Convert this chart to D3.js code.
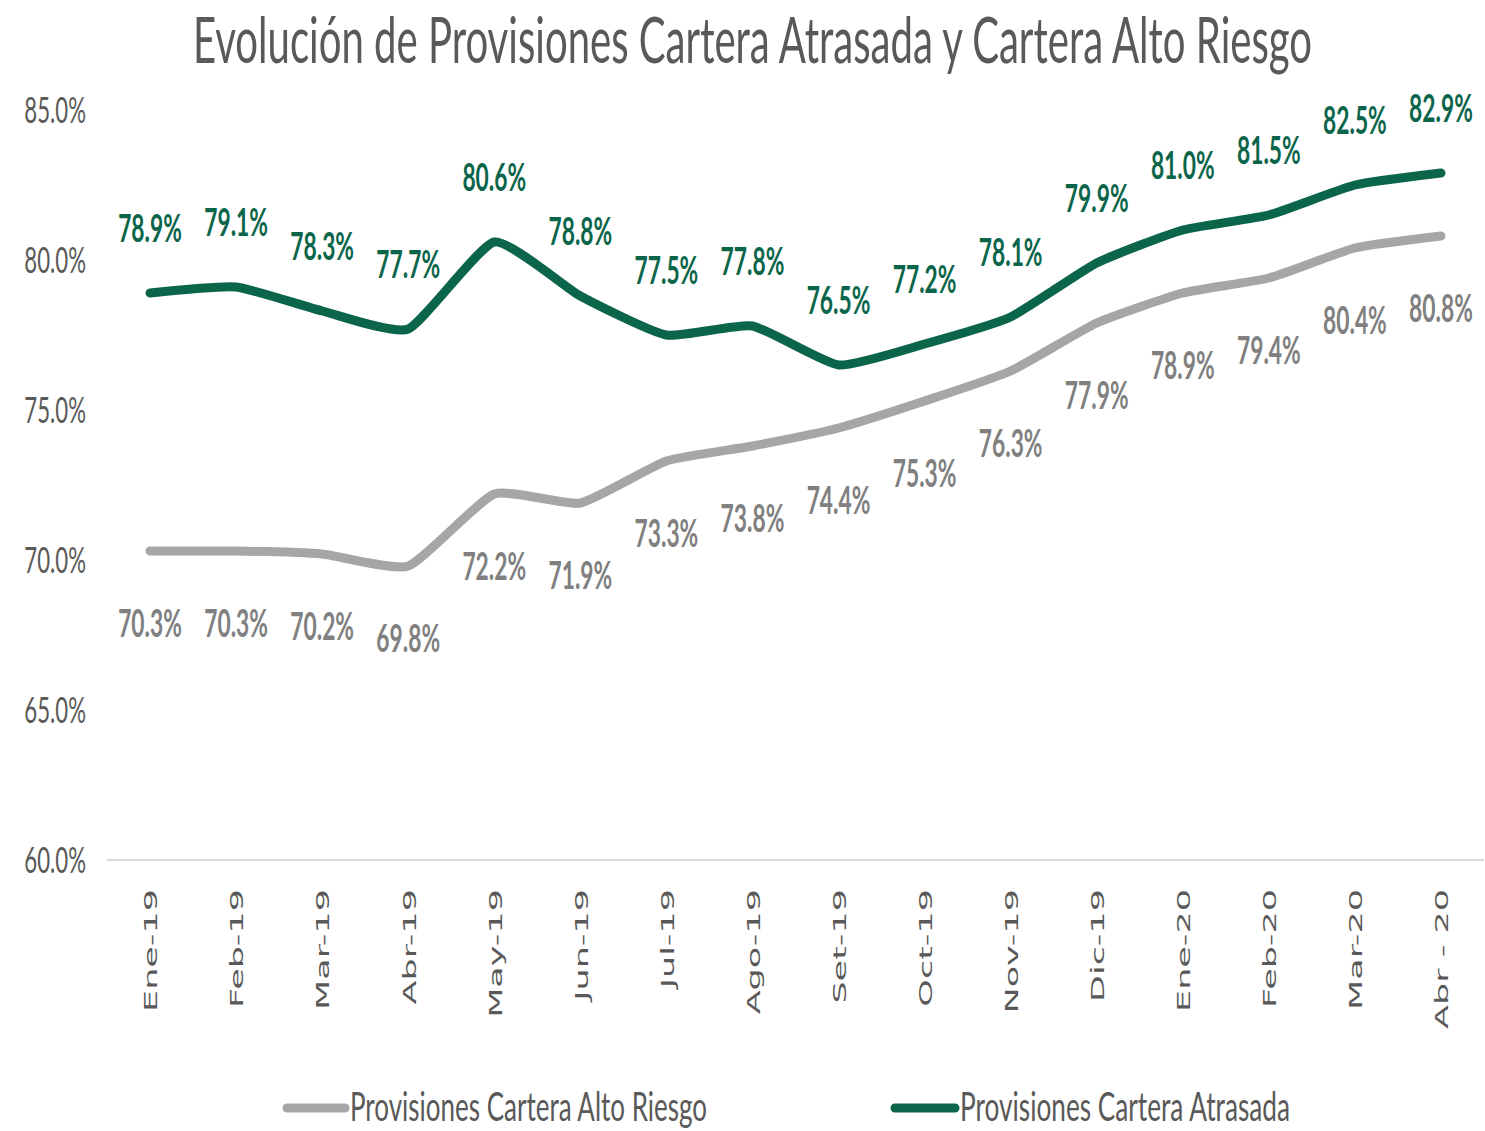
<!DOCTYPE html>
<html>
<head>
<meta charset="utf-8">
<script src="https://cdn.jsdelivr.net/npm/d3@7"></script>
<style>
  body { margin: 0; background: #fff; }
  svg { display: block; }
</style>
</head>
<body>
<svg id="viz"></svg>
<script>
var width = 1485;
var height = 1131;

var months = ["Ene-19", "Feb-19", "Mar-19", "Abr-19", "May-19", "Jun-19", "Jul-19", "Ago-19",
  "Set-19", "Oct-19", "Nov-19", "Dic-19", "Ene-20", "Feb-20", "Mar-20", "Abr - 20"];
var atrasada = [78.9, 79.1, 78.3, 77.7, 80.6, 78.8, 77.5, 77.8, 76.5, 77.2, 78.1, 79.9, 81.0, 81.5, 82.5, 82.9];
var altoRiesgo = [70.3, 70.3, 70.2, 69.8, 72.2, 71.9, 73.3, 73.8, 74.4, 75.3, 76.3, 77.9, 78.9, 79.4, 80.4, 80.8];
var yTicks = [60, 65, 70, 75, 80, 85];
var seriesNames = ["Provisiones Cartera Alto Riesgo", "Provisiones Cartera Atrasada"];

var green = "#0b654a";
var grey = "#a6a6a6";
var greyText = "#808080";
var axisText = "#595959";

var svg = d3.select("#viz").attr("width", width).attr("height", height);

var x = d3.scaleBand().domain(months).range([107, 1484]);
var y = d3.scaleLinear().domain([60, 85]).range([860, 110]);
function cx(d, i) { return x(months[i]) + x.bandwidth() / 2; }

// title
svg.append("text")
  .attr("x", 193).attr("y", 63)
  .attr("textLength", 1119).attr("lengthAdjust", "spacingAndGlyphs")
  .style("font-family", "Lato").style("font-size", "64px")
  .style("fill", axisText)
  .text("Evolución de Provisiones Cartera Atrasada y Cartera Alto Riesgo");

// y axis labels (no axis line)
svg.append("g").selectAll("text")
  .data(yTicks).enter().append("text")
  .attr("transform", function(d) { return "translate(86," + y(d) + ") scale(0.6,1)"; })
  .attr("dy", "0.36em")
  .attr("text-anchor", "end")
  .style("font-family", "Lato").style("font-size", "37px")
  .style("fill", axisText)
  .text(function(d) { return d.toFixed(1) + "%"; });

// baseline
svg.append("line")
  .attr("x1", 107).attr("x2", 1484)
  .attr("y1", y(60)).attr("y2", y(60))
  .attr("stroke", "#d9d9d9").attr("stroke-width", 2);

// x labels, rotated
svg.append("g").selectAll("text")
  .data(months).enter().append("text")
  .attr("transform", function(d, i) { return "translate(" + (cx(d, i) + 1) + ",889) scale(0.5,1) rotate(-90)"; })
  .attr("dy", "0.36em")
  .attr("text-anchor", "end")
  .style("font-family", "DejaVu Sans").style("font-size", "35px")
  .style("fill", axisText)
  .text(function(d) { return d; });

var line = d3.line()
  .x(function(d, i) { return cx(d, i); })
  .y(function(d) { return y(d); })
  .curve(d3.curveCardinal.tension(0.5));

svg.append("path").datum(altoRiesgo)
  .attr("d", line).attr("fill", "none")
  .attr("stroke", grey).attr("stroke-width", 9).attr("stroke-linecap", "round");

svg.append("path").datum(atrasada)
  .attr("d", line).attr("fill", "none")
  .attr("stroke", green).attr("stroke-width", 9).attr("stroke-linecap", "round");

// data labels
svg.append("g").selectAll("text")
  .data(atrasada).enter().append("text")
  .attr("transform", function(d, i) { return "translate(" + cx(d, i) + "," + (y(d) - 51) + ") scale(0.6,1)"; })
  .attr("text-anchor", "middle")
  .style("font-family", "Lato").style("font-weight", "bold").style("font-size", "38px")
  .style("fill", green)
  .text(function(d) { return d.toFixed(1) + "%"; });

svg.append("g").selectAll("text")
  .data(altoRiesgo).enter().append("text")
  .attr("transform", function(d, i) { return "translate(" + cx(d, i) + "," + (y(d) + 86) + ") scale(0.6,1)"; })
  .attr("text-anchor", "middle")
  .style("font-family", "Lato").style("font-weight", "bold").style("font-size", "38px")
  .style("fill", greyText)
  .text(function(d) { return d.toFixed(1) + "%"; });

// legend
var legendItems = [
  {name: seriesNames[0], color: grey, x0: 287, x1: 345, tx: 350, tl: 357},
  {name: seriesNames[1], color: green, x0: 895, x1: 955, tx: 960, tl: 330}
];
var legend = svg.append("g").attr("class", "legend");
legend.selectAll("line")
  .data(legendItems).enter().append("line")
  .attr("x1", function(d) { return d.x0; }).attr("x2", function(d) { return d.x1; })
  .attr("y1", 1108).attr("y2", 1108)
  .attr("stroke", function(d) { return d.color; })
  .attr("stroke-width", 9).attr("stroke-linecap", "round");
legend.selectAll("text")
  .data(legendItems).enter().append("text")
  .attr("x", function(d) { return d.tx; }).attr("y", 1121)
  .attr("textLength", function(d) { return d.tl; }).attr("lengthAdjust", "spacingAndGlyphs")
  .style("font-family", "Lato").style("font-size", "40px")
  .style("fill", axisText)
  .text(function(d) { return d.name; });
</script>
</body>
</html>
